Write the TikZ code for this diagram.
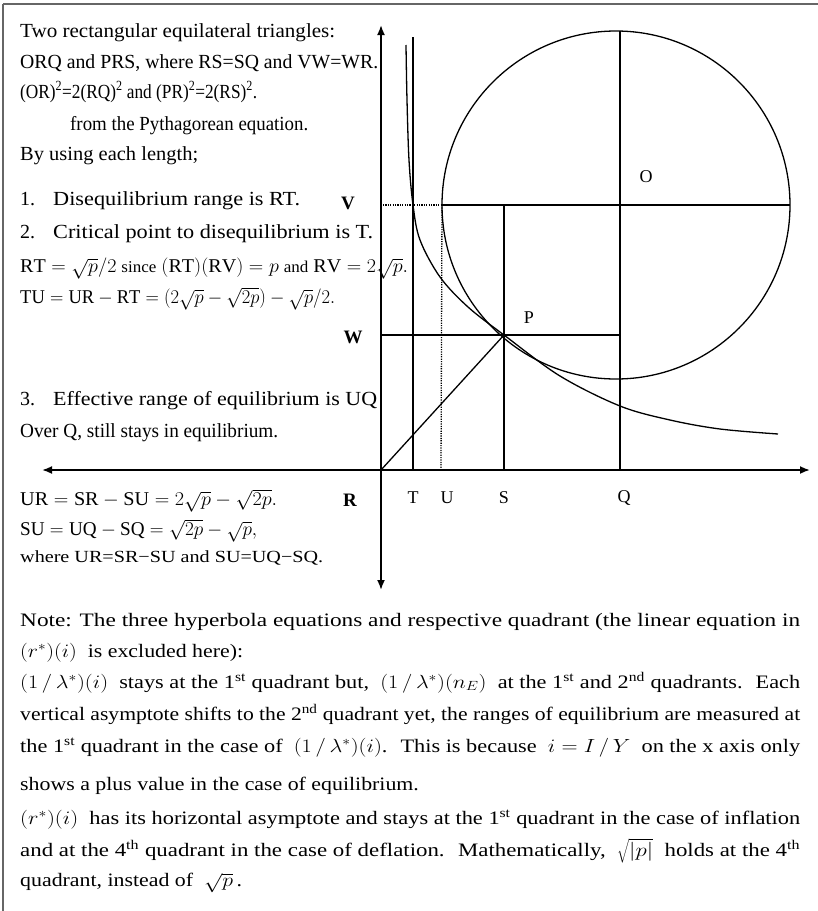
\RequirePackage{fix-cm}
\documentclass[tikz,border=0pt]{standalone}
\usepackage{fontspec}
\usepackage{graphicx}
\setmainfont{Liberation Serif}
\newfontfamily\notefont{Liberation Serif}
\usetikzlibrary{arrows.meta}
\tikzset{
  axisline/.style={line width=1.8pt, {Latex[length=10pt,width=8pt]}-{Latex[length=10pt,width=8pt]}},
  geo/.style={line width=1.3pt},
  dotline/.style={line width=1.3pt, dash pattern=on 1.2pt off 1.2pt},
  txt/.style={anchor=base west, inner sep=0pt, font=\fontsize{20}{24}\selectfont},
  mtxt/.style={anchor=base west, inner sep=0pt, font=\fontsize{19.5}{23}\selectfont},
  smalltxt/.style={anchor=base west, inner sep=0pt, font=\notefont\fontsize{17}{20}\selectfont},
  notetxt/.style={anchor=base west, inner sep=0pt, font=\notefont\fontsize{19}{23}\selectfont},
  lab/.style={inner sep=0pt, font=\fontsize{18}{20}\selectfont},
  blab/.style={inner sep=0pt, font=\bfseries\fontsize{19}{21}\selectfont},
  frame/.style={line width=1.4pt, black!60},
}
\newcommand{\stline}[2]{\resizebox{#1}{\height}{#2}}
\newcommand{\shline}[1]{\scalebox{1.15}[1]{#1}}
\newcommand{\rst}{$\bigl(r^{*}\bigr)\bigl(i\bigr)$}
\newcommand{\lam}[1]{$\bigl(1\,/\,\lambda^{*}\bigr)\bigl(#1\bigr)$}
\begin{document}
\begin{tikzpicture}[x=1pt,y=-1pt]
\useasboundingbox (0,0) rectangle (818,911);
% frame
\draw[frame] (3,4) -- (818,4);
\draw[frame] (3,4) -- (3,911);

% coordinates
\coordinate (R) at (381,470);
\coordinate (T) at (413,470);
\coordinate (U) at (441,470);
\coordinate (S) at (504,470);
\coordinate (Q) at (620,470);
\coordinate (P) at (504,335);
\coordinate (O) at (616,205);
\coordinate (Vaxis) at (383,205);
\coordinate (Vc) at (442,205);
\coordinate (Vr) at (790,205);
\coordinate (Sv) at (504,205);
\coordinate (Waxis) at (381,335);
\coordinate (Wq) at (620,335);
\coordinate (Qtop) at (620,31);
\coordinate (Ttop) at (413,37);
\coordinate (xl) at (42,470);
\coordinate (xr) at (810,470);
\coordinate (yt) at (381,25);
\coordinate (yb) at (381,590);

% axes
\draw[axisline] (xl) -- (xr);
\draw[axisline] (yb) -- (yt);

% geometry
\draw[geo] (O) circle[radius=174pt];
\draw[geo] (Vc) -- (Vr);
\draw[dotline] (Vaxis) -- (Vc);
\draw[dotline] (Vc) -- (U);
\draw[geo] (Qtop) -- (Q);
\draw[geo] (Sv) -- (S);
\draw[geo] (Ttop) -- (T);
\draw[geo] (Waxis) -- (Wq);
\draw[geo] (R) -- (P);
\draw[geo] plot[smooth, tension=0.55] coordinates {(406,45) (407,100) (409,160) (413,205) (420,240) (440,277) (468,307) (P) (560,376) (620,406) (670,420) (720,429) (778,434)};

% graph labels
\node[blab] (lV) at (348,203) {V};
\node[blab] (lW) at (353,337) {W};
\node[blab] (lR) at (350,500) {R};
\node[lab] (lT) at (413,498) {T};
\node[lab] (lU) at (447,498) {U};
\node[lab] (lS) at (504,498) {S};
\node[lab] (lQ) at (624,498) {Q};
\node[lab] (lP) at (529,318) {P};
\node[lab] (lO) at (646,177) {O};

% left text
\node[txt] (t1) at (20,37) {\stline{315pt}{Two rectangular equilateral triangles:}};
\node[txt] (t2) at (20,68) {\stline{358pt}{ORQ and PRS, where RS=SQ and VW=WR.}};
\node[txt] (t3) at (20,98) {\stline{237pt}{(OR)\textsuperscript{2}=2(RQ)\textsuperscript{2} and (PR)\textsuperscript{2}=2(RS)\textsuperscript{2}.}};
\node[txt] (t4) at (70,130) {\stline{238pt}{from the Pythagorean equation.}};
\node[txt] (t5) at (20,160) {\stline{178pt}{By using each length;}};
\node[txt] (n1) at (20,205) {1.};
\node[txt] (t6) at (53,205) {\stline{247pt}{Disequilibrium range is RT.}};
\node[txt] (n2) at (20,238) {2.};
\node[txt] (t7) at (53,238) {\stline{320pt}{Critical point to disequilibrium is T.}};
\node[mtxt] (t8) at (20,272) {\stline{388pt}{$\mathrm{RT}=\sqrt{p}/2$ {\fontsize{16.5}{19}\selectfont since} $(\mathrm{RT})(\mathrm{RV})=p$ {\fontsize{16.5}{19}\selectfont and} $\mathrm{RV}=2\sqrt{p}.$}};
\node[mtxt] (t9) at (20,303) {\stline{315pt}{$\mathrm{TU}=\mathrm{UR}-\mathrm{RT}=\bigl(2\sqrt{p}-\sqrt{2p}\bigr)-\sqrt{p}/2.$}};
\node[txt] (n3) at (20,405) {3.};
\node[txt] (t10) at (53,405) {\stline{324pt}{Effective range of equilibrium is UQ}};
\node[txt] (t11) at (20,437) {\stline{258pt}{Over Q, still stays in equilibrium.}};
\node[mtxt] (t12) at (20,505) {\stline{257pt}{$\mathrm{UR}=\mathrm{SR}-\mathrm{SU}=2\sqrt{p}-\sqrt{2p}.$}};
\node[mtxt] (t13) at (20,535) {\stline{237pt}{$\mathrm{SU}=\mathrm{UQ}-\mathrm{SQ}=\sqrt{2p}-\sqrt{p},$}};
\node[smalltxt] (t14) at (20,562) {\stline{303pt}{where UR=SR−SU and SU=UQ−SQ.}};

% note
\node[notetxt] (m1) at (20,626) {\stline{780pt}{Note: The three hyperbola equations and respective quadrant (the linear equation in}};
\node[notetxt] (m2) at (20,657) {\shline{\rst\ \ is excluded here):}};
\node[notetxt] (m3) at (20,688) {\stline{780pt}{\lam{i}\ \ stays at the 1\textsuperscript{st} quadrant but, \ \lam{n_E}\ \ at the 1\textsuperscript{st} and 2\textsuperscript{nd} quadrants. \ Each}};
\node[notetxt] (m4) at (20,720) {\stline{780pt}{vertical asymptote shifts to the 2\textsuperscript{nd} quadrant yet, the ranges of equilibrium are measured at}};
\node[notetxt] (m5) at (20,752) {\stline{780pt}{the 1\textsuperscript{st} quadrant in the case of \ \lam{i}. \ This is because \ $i=I\,/\,Y$ \ on the x axis only}};
\node[notetxt] (m6) at (20,790) {\shline{shows a plus value in the case of equilibrium.}};
\node[notetxt] (m7) at (20,824) {\stline{780pt}{\rst\ \ has its horizontal asymptote and stays at the 1\textsuperscript{st} quadrant in the case of inflation}};
\node[notetxt] (m8) at (20,856) {\stline{780pt}{and at the 4\textsuperscript{th} quadrant in the case of deflation. \ Mathematically, \ $\sqrt{|p|}$ \ holds at the 4\textsuperscript{th}}};
\node[notetxt] (m9) at (20,886) {\shline{quadrant, instead of \ $\sqrt{p}$\,.}};
\end{tikzpicture}
\end{document}
